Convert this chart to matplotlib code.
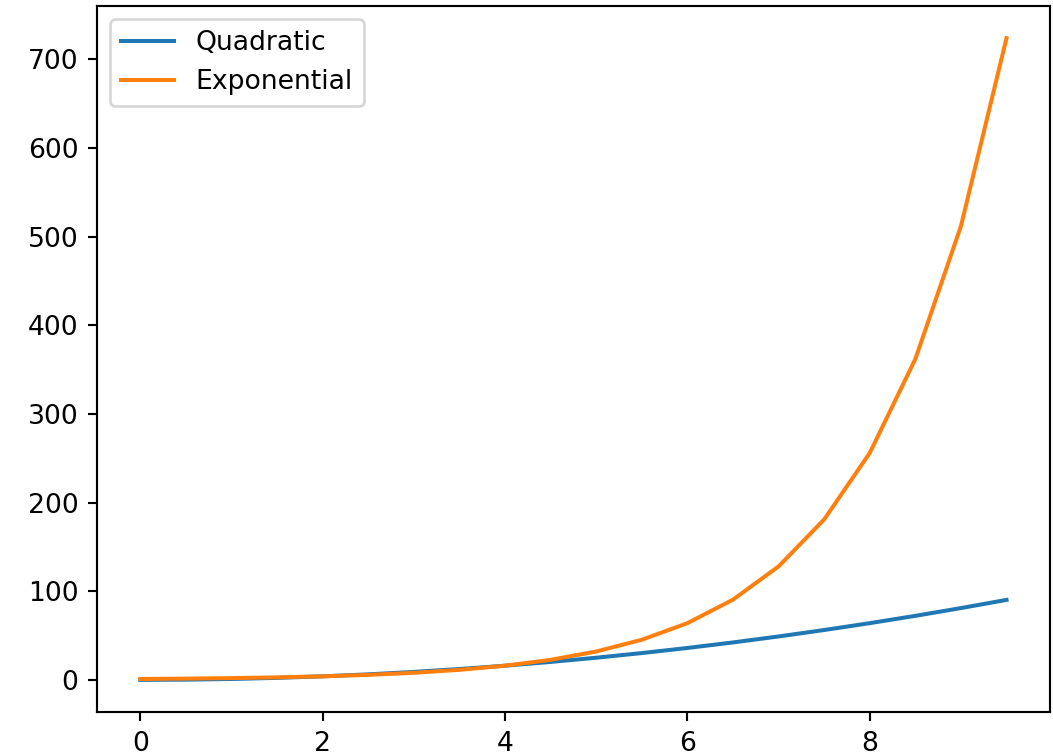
import matplotlib
matplotlib.use("Agg")
import matplotlib.pyplot as plt

# values (step 0.5)
x_vals = [0, 0.5, 1, 1.5, 2, 2.5, 3, 3.5, 4, 4.5, 5, 5.5, 6, 6.5, 7, 7.5, 8, 8.5, 9, 9.5]
quadratic = [0, 0.25, 1, 2.25, 4, 6.25, 9, 12.25, 16, 20.25, 25, 30.25, 36, 42.25,
             49, 56.25, 64, 72.25, 81, 90.25]
exponential = [1, 1.41, 2, 2.83, 4, 5.66, 8, 11.31, 16, 22.63, 32, 45.25, 64, 90.51,
               128, 181.02, 256, 362.04, 512, 724.08]

DPI = 192
fig, ax = plt.subplots(figsize=(1053 / DPI, 755 / DPI), dpi=DPI)
fig.subplots_adjust(left=0.0921, right=0.997, top=0.992, bottom=0.057)

ax.plot(x_vals, quadratic, label='Quadratic')
ax.plot(x_vals, exponential, label='Exponential')
ax.legend(loc='upper left')

fig.savefig('out.png', dpi=DPI)
